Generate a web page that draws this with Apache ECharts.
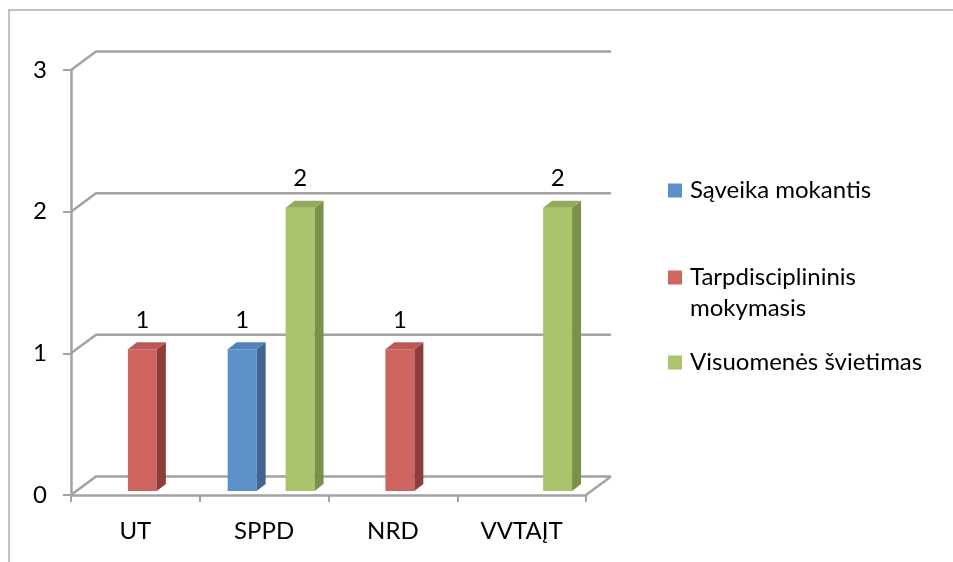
<!DOCTYPE html>
<html>
<head>
<meta charset="utf-8">
<script src="https://cdn.jsdelivr.net/npm/echarts@6/dist/echarts.min.js"></script>
<style>
  html, body { margin: 0; padding: 0; background: #fff; }
  #chart { width: 953px; height: 562px; }
</style>
</head>
<body>
<div id="chart"></div>
<script>
// data
const categories = ['UT', 'SPPD', 'NRD', 'VVTAĮT']
const seriesNames = ['Sąveika mokantis', 'Tarpdisciplininis mokymasis', 'Visuomenės švietimas']
const saveika = [null, 1, null, null]
const tarpdisciplininis = [1, null, 1, null]
const visuomenes = [null, 2, null, 2]
const yTicks = [0, 1, 2, 3]

const FONT = 'Lato'
const FONT_SIZE = 24
const LINE = '#a3a3a3'
// 3d look: wall depth and bar depth
const WALL_DX = 25, WALL_DY = 18.5
const SHIFT_X = 7, SHIFT_Y = 4
const DX = 9, DY = 7

const faces = [
  { front: '#5b90c9', side: '#3e6594', top: '#5282b8' },
  { front: '#cd645e', side: '#8e3e3a', top: '#b95a55' },
  { front: '#aac46c', side: '#7b9147', top: '#91aa5b' }
]

function toData(arr) {
  let out = []
  arr.forEach((v, i) => {
    if (v !== null) out.push([i, v])
  })
  return out
}

function barRenderer(idx) {
  return function (params, api) {
    const cat = api.value(0)
    const val = api.value(1)
    const base = api.coord([cat, 0])
    const top = api.coord([cat, val])
    const band = api.size([1, 0])[0]
    const bw = band * 0.225
    const x0 = base[0] + (idx - 1) * bw - bw / 2 + SHIFT_X
    const x1 = x0 + bw
    const yb = base[1] - SHIFT_Y
    const yt = top[1] - SHIFT_Y
    const f = faces[idx]
    return {
      type: 'group',
      children: [
        { type: 'rect', shape: { x: x0, y: yt, width: bw, height: yb - yt }, style: { fill: f.front } },
        {
          type: 'polygon',
          shape: { points: [[x1, yt], [x1 + DX, yt - DY], [x1 + DX, yb - DY], [x1, yb]] },
          style: { fill: f.side }
        },
        {
          type: 'polygon',
          shape: { points: [[x0, yt], [x0 + DX, yt - DY], [x1 + DX, yt - DY], [x1, yt]] },
          style: { fill: f.top }
        },
        {
          type: 'text',
          style: {
            text: String(val),
            x: (x0 + x1) / 2,
            y: yt - DY - 22,
            align: 'center',
            verticalAlign: 'middle',
            fontFamily: FONT,
            fontSize: FONT_SIZE,
            fill: '#000'
          }
        }
      ]
    }
  }
}

function wallRenderer(params, api) {
  const cs = params.coordSys
  const v = api.value(0)
  const y = api.coord([0, v])[1]
  const left = cs.x
  const right = cs.x + cs.width
  let children = [
    {
      type: 'polyline',
      shape: { points: [[left, y], [left + WALL_DX, y - WALL_DY], [right + WALL_DX, y - WALL_DY]] },
      style: { stroke: LINE, lineWidth: 2.5, fill: null }
    }
  ]
  if (v === 0) {
    children.push({
      type: 'line',
      shape: { x1: right, y1: y, x2: right + WALL_DX, y2: y - WALL_DY },
      style: { stroke: LINE, lineWidth: 2.5 }
    })
  }
  return { type: 'group', children: children }
}

const chart = echarts.init(document.getElementById('chart'))

const legendText = { fontFamily: FONT, fontSize: FONT_SIZE, color: '#000', lineHeight: 31, padding: [0, 0, 0, 3] }

const option = {
  animation: false,
  graphic: [
    {
      type: 'rect',
      shape: { x: 9, y: 10, width: 1200, height: 800 },
      style: { fill: null, stroke: '#b0b0b0', lineWidth: 1.5 },
      silent: true
    }
  ],
  grid: { left: 71, top: 70, width: 515, height: 425 },
  legend: [
    {
      left: 668, top: 175, padding: 0, itemWidth: 14, itemHeight: 14,
      icon: 'rect', textStyle: legendText, data: [seriesNames[0]]
    },
    {
      left: 668, top: 231, padding: 0, itemWidth: 14, itemHeight: 14,
      icon: 'rect',
      textStyle: legendText,
      // blank first line keeps the square level with the first text line
      formatter: name => '\n' + name.replace(' ', '\n'),
      data: [seriesNames[1]]
    },
    {
      left: 668, top: 347, padding: 0, itemWidth: 14, itemHeight: 14,
      icon: 'rect', textStyle: legendText, data: [seriesNames[2]]
    }
  ],
  xAxis: {
    type: 'category',
    data: categories,
    boundaryGap: true,
    axisLine: { lineStyle: { color: LINE, width: 2.5 } },
    axisTick: { show: true, length: 7, lineStyle: { color: LINE, width: 2 } },
    axisLabel: { margin: 24, fontFamily: FONT, fontSize: FONT_SIZE, color: '#000' },
    splitLine: { show: false }
  },
  yAxis: {
    type: 'value',
    min: yTicks[0],
    max: yTicks[yTicks.length - 1],
    interval: 1,
    axisLine: { show: true, lineStyle: { color: LINE, width: 2.5 } },
    axisTick: { show: true, length: 8, lineStyle: { color: LINE, width: 2 } },
    axisLabel: { margin: 24, fontFamily: FONT, fontSize: FONT_SIZE, color: '#000' },
    splitLine: { show: false }
  },
  series: [
    {
      name: 'wall',
      type: 'custom',
      silent: true,
      z: 1,
      renderItem: wallRenderer,
      encode: { y: 0 },
      data: yTicks.map(v => [v])
    },
    {
      name: seriesNames[0],
      type: 'custom',
      z: 3,
      itemStyle: { color: '#5b91cb' },
      renderItem: barRenderer(0),
      encode: { x: 0, y: 1 },
      data: toData(saveika)
    },
    {
      name: seriesNames[1],
      type: 'custom',
      z: 3,
      itemStyle: { color: '#cf6660' },
      renderItem: barRenderer(1),
      encode: { x: 0, y: 1 },
      data: toData(tarpdisciplininis)
    },
    {
      name: seriesNames[2],
      type: 'custom',
      z: 3,
      itemStyle: { color: '#abc56d' },
      renderItem: barRenderer(2),
      encode: { x: 0, y: 1 },
      data: toData(visuomenes)
    }
  ]
}

chart.setOption(option)
window.addEventListener('resize', () => chart.resize())
</script>
</body>
</html>
